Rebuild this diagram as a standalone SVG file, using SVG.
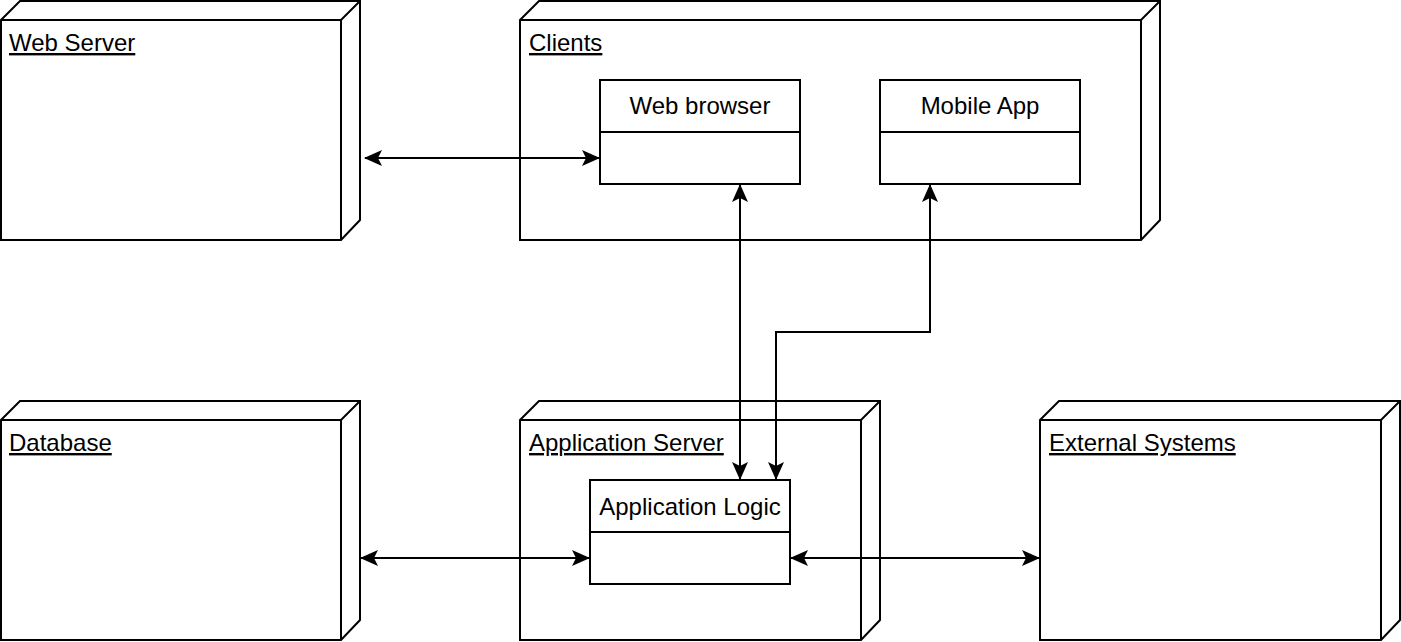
<svg xmlns="http://www.w3.org/2000/svg" width="1401" height="642" viewBox="0 0 1401 642">
<style>
.s{fill:#fff;stroke:#000;stroke-width:2;stroke-linejoin:miter}
.e{fill:none;stroke:#000;stroke-width:2}
.t{font-family:"Liberation Sans",Arial,sans-serif;font-size:24px;fill:#000}
.u{text-decoration:underline}
.c{text-anchor:middle}
</style>
<defs>
<marker id="a" markerUnits="userSpaceOnUse" markerWidth="18" markerHeight="16" viewBox="0 0 18 16" refX="17" refY="8" orient="auto-start-reverse">
<path d="M0,0 L18,8 L0,16 L4,8 Z" fill="#000"/>
</marker>
</defs>
<g id="web-server">
<path class="s" d="M1,20 L20,1 L360,1 L360,220 L341,240 L1,240 Z"/>
<path class="e" d="M1,20 L341,20 L360,1 M341,20 L341,240"/>
<text class="t u" x="9" y="51">Web Server</text>
</g>
<g id="clients">
<path class="s" d="M520,20 L539,1 L1160,1 L1160,220 L1141,240 L520,240 Z"/>
<path class="e" d="M520,20 L1141,20 L1160,1 M1141,20 L1141,240"/>
<text class="t u" x="529" y="51">Clients</text>
</g>
<g id="web-browser">
<rect class="s" x="600" y="80" width="200" height="104"/>
<path class="e" d="M600,132 L800,132"/>
<text class="t c" x="700" y="114">Web browser</text>
</g>
<g id="mobile-app">
<rect class="s" x="880" y="80" width="200" height="104"/>
<path class="e" d="M880,132 L1080,132"/>
<text class="t c" x="980" y="114">Mobile App</text>
</g>
<g id="database">
<path class="s" d="M1,420 L20,401 L360,401 L360,620 L341,640 L1,640 Z"/>
<path class="e" d="M1,420 L341,420 L360,401 M341,420 L341,640"/>
<text class="t u" x="9" y="451">Database</text>
</g>
<g id="application-server">
<path class="s" d="M520,420 L539,401 L880,401 L880,620 L861,640 L520,640 Z"/>
<path class="e" d="M520,420 L861,420 L880,401 M861,420 L861,640"/>
<text class="t u" x="529" y="451">Application Server</text>
</g>
<g id="application-logic">
<rect class="s" x="590" y="480" width="200" height="104"/>
<path class="e" d="M590,532 L790,532"/>
<text class="t c" x="690" y="515">Application Logic</text>
</g>
<g id="external-systems">
<path class="s" d="M1040,420 L1059,401 L1400,401 L1400,620 L1381,640 L1040,640 Z"/>
<path class="e" d="M1040,420 L1381,420 L1400,401 M1381,420 L1381,640"/>
<text class="t u" x="1049" y="451">External Systems</text>
</g>
<g id="connectors">
<path class="e" d="M365,158 L599,158" marker-start="url(#a)" marker-end="url(#a)"/>
<path class="e" d="M740,185 L740,479" marker-start="url(#a)" marker-end="url(#a)"/>
<path class="e" d="M930,185 L930,332 L776,332 L776,479" marker-start="url(#a)" marker-end="url(#a)"/>
<path class="e" d="M361,558 L589,558" marker-start="url(#a)" marker-end="url(#a)"/>
<path class="e" d="M791,558 L1039,558" marker-start="url(#a)" marker-end="url(#a)"/>
</g>
</svg>
